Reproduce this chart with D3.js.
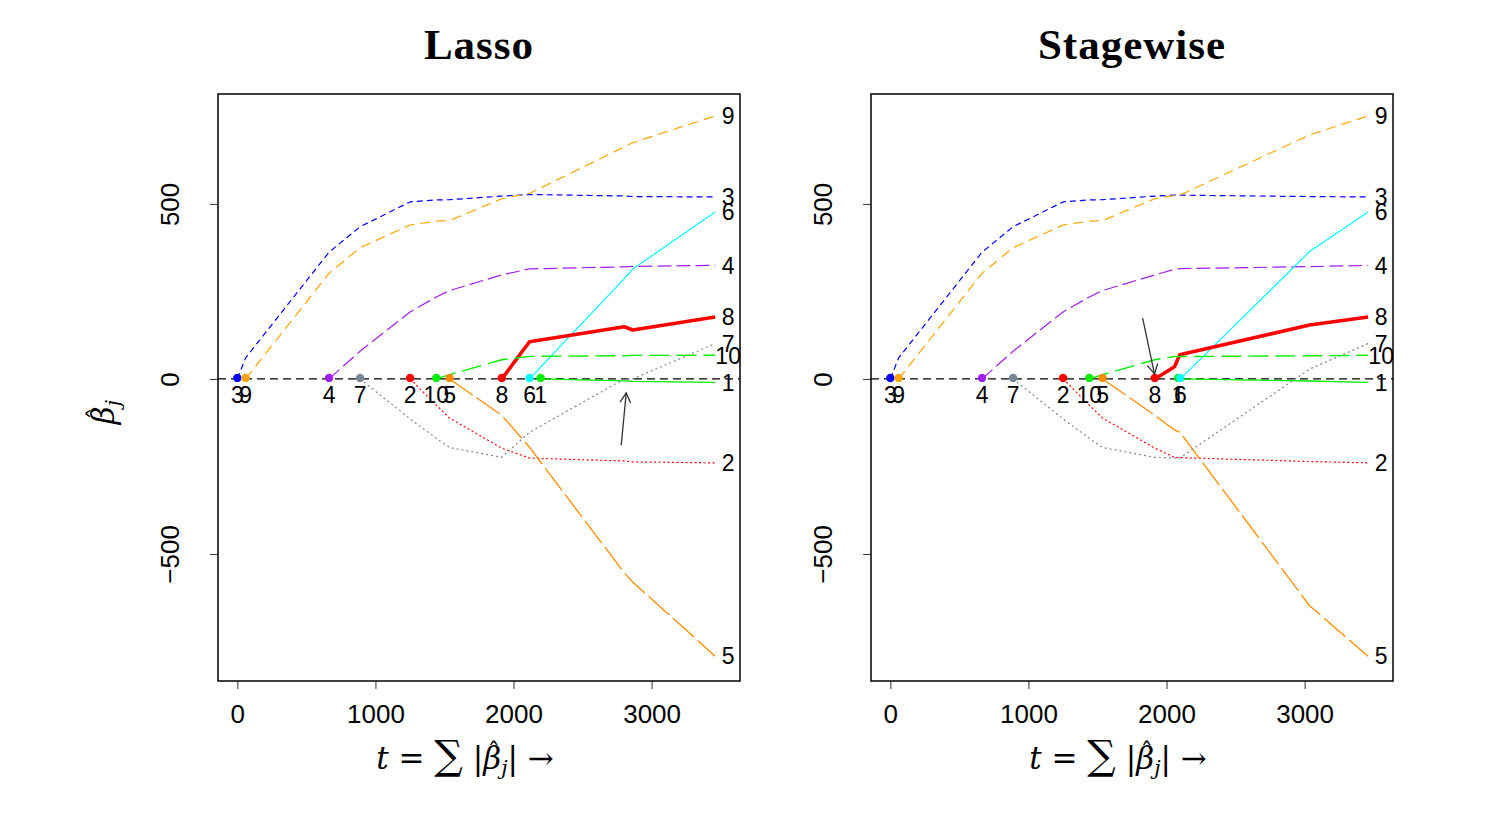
<!DOCTYPE html>
<html><head><meta charset="utf-8">
<script src="https://cdn.jsdelivr.net/npm/d3@7"></script>
<style>body{margin:0;background:#fff}</style>
</head><body>
<svg id="chart" width="1486" height="817"></svg>
<script>
// ---------- data ----------
const variables = [1,2,3,4,5,6,7,8,9,10];
const colors = ["#00ee00","#ff0000","#0000ff","#a020f0","#ff8c00","#00ffff","#778899","#ff0000","#ffa500","#00ee00"];
const dashes = ["none","2,2.5","6,4","14,5","28,5","none","2,3","none","10,6","20,7"];
const widths = [1.4,1.2,1.2,1.2,1.3,1.2,1.2,3.6,1.2,1.4];

const xTicks = [0,1000,2000,3000];
const yTicks = [-500,0,500];

// lasso: t = sum|beta| at each step, and beta (vars 1..10) per step
const lassoT = [0, 60.1, 663.7, 888.9, 1250.7, 1440.8, 1537.1, 1914.6, 2115.7, 2195.6, 2802.4, 2863.0, 3460.0];
const lassoBeta = [
  [0,0,0,0,0,0,0,0,0,0],
  [0,0,60.1,0,0,0,0,0,0,0],
  [0,0,361.9,0,0,0,0,0,301.8,0],
  [0,0,434.8,79.2,0,0,0,0,374.9,0],
  [0,0,505.7,191.3,0,0,-114.1,0,439.7,0],
  [0,-74.9,511.3,234.2,0,0,-169.7,0,450.7,0],
  [0,-112.0,512.0,252.5,0,0,-196.0,0,452.4,12.1],
  [0,-197.8,522.3,297.2,-103.9,0,-223.9,0,514.7,54.8],
  [0,-226.1,526.9,314.4,-195.1,0,-152.5,106.3,529.9,64.5],
  [0,-227.2,526.4,315.0,-237.3,33.6,-134.6,111.4,545.5,64.6],
  [-5.7,-234.4,522.6,320.3,-554.3,286.7,0,148.9,663.0,66.3],
  [-7.0,-237.1,521.1,321.5,-580.4,313.9,0,139.9,674.9,67.2],
  [-10.0,-239.8,519.8,324.4,-792.2,476.7,101.0,177.1,751.3,67.6]
];
const lassoEntry = [2196, 1251, 0, 664, 1537, 2116, 889, 1915, 60, 1441];
const lassoArrow = [[2780,-189],[2816,-40]];

// stagewise
const stageT = [0, 60.1, 663.7, 888.9, 1250.7, 1440.8, 1537.1, 1914.6, 2058, 2096, 3036, 3460.0];
const stageBeta = [
  [0,0,0,0,0,0,0,0,0,0],
  [0,0,60.1,0,0,0,0,0,0,0],
  [0,0,361.9,0,0,0,0,0,301.8,0],
  [0,0,434.8,79.2,0,0,0,0,374.9,0],
  [0,0,505.7,191.3,0,0,-114.1,0,439.7,0],
  [0,-74.9,511.3,234.2,0,0,-169.7,0,450.7,0],
  [0,-112.0,512.0,252.5,0,0,-196.0,0,452.4,12.1],
  [0,-197.8,522.3,297.2,-103.9,0,-223.9,0,514.7,54.8],
  [0,-224,525,313,-146,0,-226,35,524,64],
  [0,-225,525,315,-152,0,-226,69,525,64],
  [-6,-236,521,321,-648,364,28,154,697,66],
  [-10.0,-239.8,519.8,324.4,-792.2,476.7,101.0,177.1,751.3,67.6]
];
const stageEntry = [2085, 1251, 0, 664, 1537, 2100, 889, 1915, 60, 1441];
const stageArrow = [[1827,174],[1913,14]];

// ---------- drawing ----------
const svg = d3.select("#chart");
const plotTop = 94, plotBottom = 681;
const sans = "Liberation Sans, Arial, sans-serif";
const serif = "DejaVu Serif, Liberation Serif, serif";

// italic beta with hat and subscript j
function betaHat(t, fs){
  t.append("tspan").attr("font-style","italic").text("β");
  t.append("tspan").attr("font-size",fs*0.8).attr("dx",-fs*0.44).attr("dy",-fs*0.3).text("\u02C6");
  t.append("tspan").attr("font-style","italic").attr("font-size",fs*0.66)
    .attr("dx",fs*0.04).attr("dy",fs*0.3+fs*0.2).text("j");
}

function panel(x0, x1, title, T, B, entry, arrow){
  const x = d3.scaleLinear().domain([-140, 3640]).range([x0, x1]);
  const y = d3.scaleLinear().domain([-863, 814]).range([plotBottom, plotTop]);
  const g = svg.append("g");

  g.append("text").attr("x",(x0+x1)/2).attr("y",59).attr("text-anchor","middle")
    .attr("font-family","Liberation Serif, serif").attr("font-weight","bold").attr("font-size",43)
    .attr("letter-spacing",1).text(title);

  const xa = g.append("g").attr("transform",`translate(0,${plotBottom})`)
    .call(d3.axisBottom(x).tickValues(xTicks).tickSize(8).tickFormat(d3.format("d")));
  xa.select(".domain").remove();
  xa.selectAll("line").attr("stroke","#333").attr("stroke-width",1);
  xa.selectAll("text").attr("y",null).attr("dy",null).attr("transform","translate(0,42)")
    .attr("font-family",sans).attr("font-size",26).attr("fill","#000");

  const ya = g.append("g").attr("transform",`translate(${x0},0)`)
    .call(d3.axisLeft(y).tickValues(yTicks).tickSize(8).tickFormat(d3.format("d")));
  ya.select(".domain").remove();
  ya.selectAll("line").attr("stroke","#333").attr("stroke-width",1);
  ya.selectAll("text").attr("x",null).attr("dy",null).attr("text-anchor","middle")
    .attr("transform","translate(-39,0) rotate(-90)")
    .attr("font-family",sans).attr("font-size",26).attr("fill","#000");

  g.append("line").attr("x1",x0).attr("x2",x1).attr("y1",y(0)).attr("y2",y(0))
    .attr("stroke","#000").attr("stroke-width",1.2).attr("stroke-dasharray","8,5");

  const line = d3.line().x(d=>x(d[0])).y(d=>y(d[1]));
  variables.forEach((v,i)=>{
    const start = [[entry[i],0]];
    const rest = T.map((t,k)=>[t,B[k][i]]).filter(p=>p[0] > entry[i]);
    g.append("path").attr("d", line(start.concat(rest))).attr("fill","none")
      .attr("stroke",colors[i]).attr("stroke-width",widths[i])
      .attr("stroke-dasharray",dashes[i]).attr("stroke-linejoin","round");
  });

  variables.forEach((v,i)=>{
    g.append("circle").attr("cx",x(entry[i])).attr("cy",y(0)-1).attr("r",4.2).attr("fill",colors[i]);
  });
  variables.forEach((v,i)=>{
    g.append("text").attr("x",x(entry[i])).attr("y",y(0)+24).attr("text-anchor","middle")
      .attr("font-family",sans).attr("font-size",23).text(v);
  });

  const last = B[B.length-1], tEnd = T[T.length-1];
  variables.forEach((v,i)=>{
    g.append("text").attr("x",x(tEnd)+13).attr("y",y(last[i])).attr("dy","0.36em")
      .attr("text-anchor","middle")
      .attr("font-family",sans).attr("font-size",23).text(v);
  });

  const [a0,a1] = arrow;
  const X0=x(a0[0]),Y0=y(a0[1]),X1=x(a1[0]),Y1=y(a1[1]);
  g.append("line").attr("x1",X0).attr("y1",Y0).attr("x2",X1).attr("y2",Y1).attr("stroke","#333").attr("stroke-width",1.3);
  const ang = Math.atan2(Y1-Y0,X1-X0), L=11, w=0.5;
  const h1=[X1-L*Math.cos(ang-w), Y1-L*Math.sin(ang-w)], h2=[X1-L*Math.cos(ang+w), Y1-L*Math.sin(ang+w)];
  g.append("path").attr("d",`M${h1[0]},${h1[1]}L${X1},${Y1}L${h2[0]},${h2[1]}`)
    .attr("fill","none").attr("stroke","#333").attr("stroke-width",1.3);

  g.append("rect").attr("x",x0).attr("y",plotTop).attr("width",x1-x0).attr("height",plotBottom-plotTop)
    .attr("fill","none").attr("stroke","#000").attr("stroke-width",1.5);

  const fs = 31;
  const xl = g.append("text").attr("x",(x0+x1)/2-14).attr("y",769).attr("text-anchor","middle")
    .attr("font-family",serif).attr("font-size",fs);
  xl.append("tspan").attr("font-style","italic").text("t");
  xl.append("tspan").text(" = ");
  xl.append("tspan").attr("font-size",40).text("∑");
  xl.append("tspan").text(" |");
  betaHat(xl, fs);
  xl.append("tspan").attr("dy",-fs*0.2).text("| →");
}

panel(218, 740, "Lasso", lassoT, lassoBeta, lassoEntry, lassoArrow);
panel(871, 1393, "Stagewise", stageT, stageBeta, stageEntry, stageArrow);

const yl = svg.append("text").attr("transform","translate(114,412) rotate(-90)").attr("text-anchor","middle")
  .attr("font-family",serif).attr("font-size",31);
betaHat(yl, 31);
</script>
</body></html>
